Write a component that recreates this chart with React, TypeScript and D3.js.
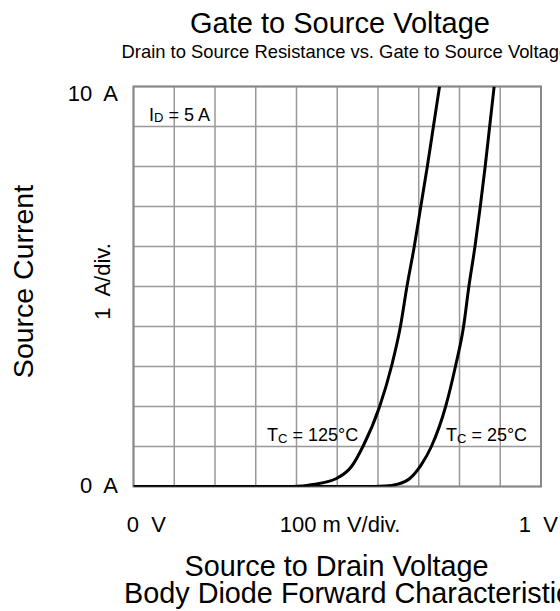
import React from "react";
import * as d3 from "d3";

// ---- data ----
const xDomain: [number, number] = [0, 1]; // volts
const yDomain: [number, number] = [0, 10]; // amps
const xGrid = [0, 0.1, 0.2, 0.3, 0.4, 0.5, 0.6, 0.7, 0.8, 0.9, 1.0];
const yGrid = [0, 1, 2, 3, 4, 5, 6, 7, 8, 9, 10];

const v125 = [0, 0.3, 0.39, 0.415, 0.441, 0.498, 0.535, 0.563, 0.604, 0.633, 0.655, 0.671, 0.689, 0.705, 0.721, 0.736, 0.751];
const i125 = [0, 0, 0, 0.01, 0.05, 0.2, 0.5, 1.0, 2.0, 3.0, 4.0, 5.0, 6.0, 7.0, 8.0, 9.0, 10.0];

const v25 = [0, 0.5, 0.592, 0.618, 0.645, 0.678, 0.706, 0.731, 0.766, 0.79, 0.81, 0.823, 0.838, 0.851, 0.863, 0.874, 0.885];
const i25 = [0, 0, 0, 0.01, 0.05, 0.2, 0.54, 1.0, 2.0, 3.0, 4.0, 5.0, 6.0, 7.0, 8.0, 9.0, 10.0];

const title = "Gate to Source Voltage";
const subtitle = "Drain to Source Resistance vs. Gate to Source Voltage";
const xTitle = "Source to Drain Voltage";
const xTitle2 = "Body Diode Forward Characteristics";
const yTitle = "Source Current";
const yTopLabel = "10  A";
const yBottomLabel = "0  A";
const yDivLabel = "1  A/div.";
const xLeftLabel = "0  V";
const xMidLabel = "100 m V/div.";
const xRightLabel = "1  V";

const FONT = "'Liberation Sans', Arial, Helvetica, sans-serif";

export default function App() {
  const W = 560;
  const H = 611;
  const left = 133.5, right = 541, top = 86.5, bottom = 486.5;
  const x = d3.scaleLinear().domain(xDomain).range([left, right]);
  const y = d3.scaleLinear().domain(yDomain).range([bottom, top]);

  const line = d3
    .line<[number, number]>()
    .x((d) => x(d[0]))
    .y((d) => y(d[1]))
    .curve(d3.curveMonotoneX);

  const s125 = v125.map((v, k) => [v, i125[k]] as [number, number]);
  const s25 = v25.map((v, k) => [v, i25[k]] as [number, number]);

  const pre = { whiteSpace: "pre" as const };

  return (
    <svg
      width={W}
      height={H}
      style={{ position: "absolute", left: 0, top: 0, background: "#fff" }}
      fontFamily={FONT}
    >
      <rect x={0} y={0} width={W} height={H} fill="#fff" />
      <defs>
        <clipPath id="plotclip">
          <rect x={left} y={top} width={right - left} height={bottom - top} />
        </clipPath>
      </defs>

      {/* titles */}
      <text x={340} y={33} fontSize={29} textAnchor="middle" fill="#000">
        {title}
      </text>
      <text x={121.5} y={58} fontSize={18.4} textAnchor="start" fill="#000">
        {subtitle}
      </text>

      {/* grid */}
      {xGrid.map((v) => (
        <line key={"gx" + v} x1={x(v)} x2={x(v)} y1={top} y2={bottom} stroke="#999" strokeWidth={1.5} />
      ))}
      {yGrid.map((v) => (
        <line key={"gy" + v} x1={left} x2={right} y1={y(v)} y2={y(v)} stroke="#999" strokeWidth={1.5} />
      ))}
      <rect x={left} y={top} width={right - left} height={bottom - top} fill="none" stroke="#888" strokeWidth={2} />

      {/* annotations */}
      <text x={x(0.038)} y={120.7} fontSize={18} fill="#000">
        I<tspan fontSize={13} dy={1.5}>D</tspan>
        <tspan dy={-1.5} style={pre}>{" = 5 A"}</tspan>
      </text>
      <text x={267} y={440.7} fontSize={18} fill="#000">
        T<tspan fontSize={13} dy={2}>C</tspan>
        <tspan dy={-2} style={pre}>{" = 125°C"}</tspan>
      </text>
      <text x={446} y={440.7} fontSize={18} fill="#000">
        T<tspan fontSize={13} dy={2}>C</tspan>
        <tspan dy={-2} style={pre}>{" = 25°C"}</tspan>
      </text>

      {/* curves */}
      <g clipPath="url(#plotclip)">
        <path d={line(s125) || ""} fill="none" stroke="#000" strokeWidth={3} />
        <path d={line(s25) || ""} fill="none" stroke="#000" strokeWidth={3} />
      </g>

      {/* axis labels */}
      <text x={118} y={100.7} fontSize={22} textAnchor="end" style={pre}>
        {yTopLabel}
      </text>
      <text x={118} y={492.7} fontSize={22} textAnchor="end" style={pre}>
        {yBottomLabel}
      </text>
      <text
        transform={`translate(110,281.5) rotate(-90)`}
        fontSize={22}
        textAnchor="middle"
        style={pre}
      >
        {yDivLabel}
      </text>
      <text transform={`translate(33,281.5) rotate(-90)`} fontSize={28.5} textAnchor="middle">
        {yTitle}
      </text>

      <text x={126.7} y={531.7} fontSize={22} textAnchor="start" style={pre}>
        {xLeftLabel}
      </text>
      <text x={340} y={531.7} fontSize={22} textAnchor="middle" style={pre}>
        {xMidLabel}
      </text>
      <text x={558} y={531.7} fontSize={22} textAnchor="end" style={pre}>
        {xRightLabel}
      </text>

      <text x={336.5} y={575.5} fontSize={28.8} textAnchor="middle">
        {xTitle}
      </text>
      <text x={124} y={603} fontSize={28.8} textAnchor="start">
        {xTitle2}
      </text>
    </svg>
  );
}
